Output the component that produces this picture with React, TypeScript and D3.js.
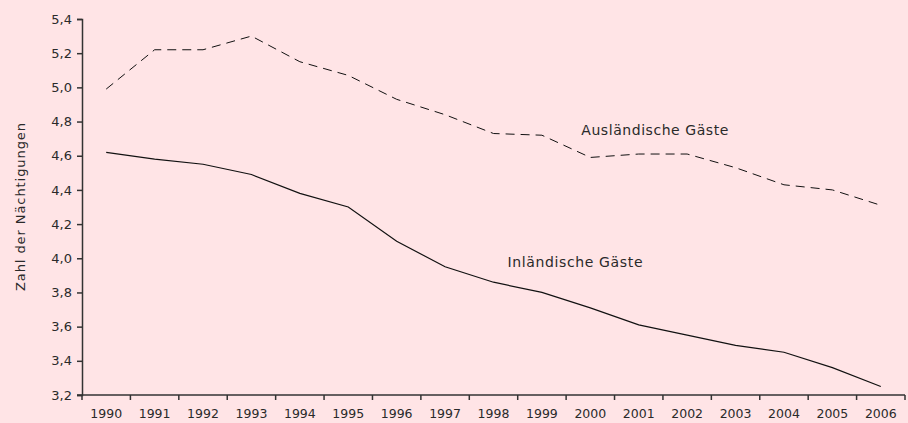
import React, { useEffect, useRef } from 'react'
import * as d3 from 'd3'

const years = ['1990', '1991', '1992', '1993', '1994', '1995', '1996', '1997', '1998', '1999', '2000', '2001', '2002', '2003', '2004', '2005', '2006']
const auslaendisch = [4.99, 5.22, 5.22, 5.30, 5.15, 5.07, 4.93, 4.84, 4.73, 4.72, 4.59, 4.61, 4.61, 4.53, 4.43, 4.40, 4.31]
const inlaendisch = [4.62, 4.58, 4.55, 4.49, 4.38, 4.30, 4.10, 3.95, 3.86, 3.80, 3.71, 3.61, 3.55, 3.49, 3.45, 3.36, 3.25]
const yTicks = [3.2, 3.4, 3.6, 3.8, 4.0, 4.2, 4.4, 4.6, 4.8, 5.0, 5.2, 5.4]

const width = 908
const height = 423
const margin = { top: 19, right: 3, bottom: 28, left: 82 }
const font = '"DejaVu Sans", sans-serif'

export default function App() {
  const ref = useRef<SVGSVGElement>(null)

  useEffect(() => {
    const svg = d3.select(ref.current)
    svg.selectAll('*').remove()

    const innerW = width - margin.left - margin.right
    const innerH = height - margin.top - margin.bottom

    svg.append('rect').attr('width', width).attr('height', height).attr('fill', '#ffe4e6')

    const x = d3.scaleBand().domain(years).range([0, innerW])
    const y = d3.scaleLinear().domain([3.2, 5.4]).range([innerH, 0])

    const g = svg.append('g').attr('transform', `translate(${margin.left},${margin.top})`)

    // y axis
    const yAxis = g.append('g')
      .call(d3.axisLeft(y).tickValues(yTicks).tickSize(5).tickPadding(5)
        .tickFormat(d => d3.format('.1f')(d as number).replace('.', ',')))
    yAxis.select('.domain').attr('stroke', '#333').attr('stroke-width', 1.5)
    yAxis.selectAll('.tick line').attr('stroke', '#333').attr('stroke-width', 1.5)
    yAxis.selectAll('.tick text').attr('fill', '#2a2a2a').style('font-size', '13px').style('font-family', font)

    // x axis: ticks at band boundaries, labels centered
    const xg = g.append('g').attr('transform', `translate(0,${innerH})`)
    xg.append('line').attr('x1', -5).attr('x2', innerW).attr('stroke', '#333').attr('stroke-width', 1.5)
    const bounds = years.map(yr => x(yr) as number).concat([innerW])
    xg.selectAll('line.tk').data(bounds).enter().append('line')
      .attr('class', 'tk')
      .attr('x1', d => d).attr('x2', d => d)
      .attr('y1', 0).attr('y2', 5)
      .attr('stroke', '#333').attr('stroke-width', 1.5)
    xg.selectAll('text').data(years).enter().append('text')
      .attr('x', d => (x(d) as number) + x.bandwidth() / 2)
      .attr('y', 23)
      .attr('text-anchor', 'middle')
      .attr('fill', '#2a2a2a')
      .style('font-size', '12.5px')
      .style('font-family', font)
      .text(d => d)

    const cx = (i: number) => (x(years[i]) as number) + x.bandwidth() / 2
    const line = d3.line<number>().x((_, i) => cx(i)).y(d => y(d))

    g.append('path').datum(auslaendisch).attr('d', line)
      .attr('fill', 'none').attr('stroke', '#111').attr('stroke-width', 1)
      .attr('stroke-dasharray', '9,6')

    g.append('path').datum(inlaendisch).attr('d', line)
      .attr('fill', 'none').attr('stroke', '#111').attr('stroke-width', 1.2)

    // series labels
    g.append('text').attr('x', cx(10) - 9).attr('y', y(4.72))
      .attr('textLength', 147).attr('lengthAdjust', 'spacing')
      .attr('fill', '#2a2a2a').style('font-size', '14px').style('font-family', font)
      .text('Ausländische Gäste')
    g.append('text').attr('x', cx(8) + 14).attr('y', y(3.95))
      .attr('textLength', 135).attr('lengthAdjust', 'spacing')
      .attr('fill', '#2a2a2a').style('font-size', '14px').style('font-family', font)
      .text('Inländische Gäste')

    // y axis title
    svg.append('text')
      .attr('transform', `translate(25,${margin.top + innerH / 2}) rotate(-90)`)
      .attr('text-anchor', 'middle')
      .attr('textLength', 168).attr('lengthAdjust', 'spacing')
      .attr('fill', '#2a2a2a')
      .style('font-size', '13px')
      .style('font-family', font)
      .text('Zahl der Nächtigungen')
  }, [])

  return (
    <svg ref={ref} width={width} height={height}
      style={{ position: 'absolute', left: 0, top: 0, display: 'block' }} />
  )
}
